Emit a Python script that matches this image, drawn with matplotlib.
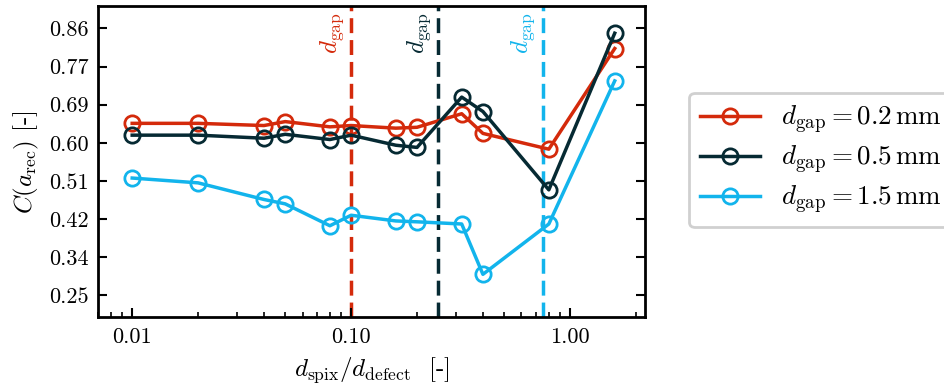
import numpy as np
import matplotlib
matplotlib.use("Agg")
import matplotlib.pyplot as plt
from matplotlib.ticker import FixedLocator, FixedFormatter, LogLocator, NullFormatter

plt.rcParams['font.family'] = 'serif'
plt.rcParams['font.serif'] = ['cmr10', 'DejaVu Serif']
plt.rcParams['mathtext.fontset'] = 'cm'
plt.rcParams['axes.formatter.use_mathtext'] = True

# ---- data ----
x_ratio = [0.01, 0.02, 0.04, 0.05, 0.08, 0.1, 0.16, 0.2, 0.32, 0.4, 0.8, 1.6]
c_gap02 = [0.643, 0.643, 0.638, 0.647, 0.635, 0.638, 0.632, 0.634, 0.665, 0.620, 0.584, 0.814]
c_gap05 = [0.616, 0.616, 0.609, 0.618, 0.606, 0.616, 0.593, 0.588, 0.703, 0.670, 0.491, 0.849]
c_gap15 = [0.518, 0.507, 0.469, 0.459, 0.409, 0.433, 0.420, 0.418, 0.413, 0.298, 0.413, 0.740]
gap_ratio = [0.1, 0.25, 0.75]
series_labels = [r'$d_\mathrm{gap} = 0.2\,\mathrm{mm}$',
                 r'$d_\mathrm{gap} = 0.5\,\mathrm{mm}$',
                 r'$d_\mathrm{gap} = 1.5\,\mathrm{mm}$']
colors = ['#d42a0b', '#062a33', '#12b4ec']
y_ticks = [0.25, 0.3371, 0.4243, 0.5114, 0.5986, 0.6857, 0.7729, 0.86]
y_ticklabels = ['0.25', '0.34', '0.42', '0.51', '0.60', '0.69', '0.77', '0.86']
x_ticks = [0.01, 0.1, 1.0]
x_ticklabels = ['0.01', '0.10', '1.00']

fig = plt.figure(figsize=(9.45, 3.87), dpi=100)
ax = fig.add_axes([0.104, 0.180, 0.579, 0.805])

for yv, col, lab in zip([c_gap02, c_gap05, c_gap15], colors, series_labels):
    ax.plot(x_ratio, yv, '-o', color=col, lw=2.5, ms=11, mfc='none',
            mec=col, mew=2.0, label=lab)

for xv, col in zip(gap_ratio, colors):
    ax.axvline(xv, color=col, lw=2.5, ls=(0, (4.3, 2.0)), zorder=1)
    ax.text(xv * 0.945, 0.897, r'$d_\mathrm{gap}$', rotation=90, color=col,
            ha='right', va='top', fontsize=18)

ax.set_xscale('log')
ax.set_xlim(0.0070, 2.21)
ax.set_ylim(0.1997, 0.9116)

ax.xaxis.set_major_locator(FixedLocator(x_ticks))
ax.xaxis.set_major_formatter(FixedFormatter(x_ticklabels))
ax.xaxis.set_minor_locator(LogLocator(base=10, subs=np.arange(2, 10)))
ax.xaxis.set_minor_formatter(NullFormatter())
ax.yaxis.set_major_locator(FixedLocator(y_ticks))
ax.yaxis.set_major_formatter(FixedFormatter(y_ticklabels))

ax.tick_params(axis='both', which='major', direction='in', length=6.5, width=1.5,
               labelsize=16, pad=7)
ax.tick_params(axis='x', which='minor', direction='in', length=3.6, width=1.2)
ax.tick_params(axis='y', which='both', left=True, right=True)
ax.tick_params(axis='x', which='both', top=False, bottom=True)
for sp in ax.spines.values():
    sp.set_linewidth(2.0)

ax.set_xlabel(r'$d_\mathrm{spix}/d_\mathrm{defect}$  [-]', fontsize=18, labelpad=6)
ax.set_ylabel(r'$C(a_\mathrm{rec})$ [-]', fontsize=18, labelpad=6)

leg = ax.legend(loc='center left', bbox_to_anchor=(1.08, 0.505), borderaxespad=0,
                fontsize=19.5, handlelength=2.2, frameon=True, fancybox=True,
                edgecolor='#d0d0d0', framealpha=1.0, borderpad=0.4,
                labelspacing=0.3, handletextpad=0.8)
leg.get_frame().set_linewidth(2.0)

fig.savefig('out.png', dpi=100)
